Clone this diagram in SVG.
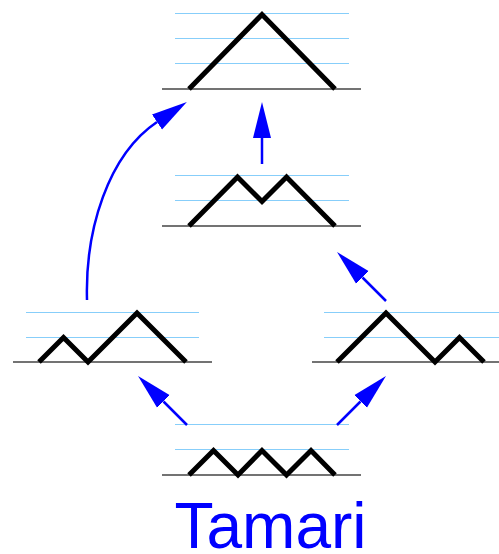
<svg xmlns="http://www.w3.org/2000/svg" width="499" height="554" viewBox="0 0 499 554">
<style>
.grid{stroke:#87cefa;stroke-width:1;fill:none}
.base{stroke:#444;stroke-width:1.5;fill:none}
.path{stroke:#000;stroke-width:5;fill:none;stroke-linejoin:miter;stroke-linecap:butt}
.arr{stroke:#00f;stroke-width:2.5;fill:none;marker-end:url(#ah)}
.label{font-family:"Liberation Sans",Arial,sans-serif;font-size:64px;fill:#00f}
</style>
<defs>
<marker id="ah" markerUnits="userSpaceOnUse" markerWidth="40" markerHeight="20" viewBox="0 -10 40 20" refX="0" refY="0" orient="auto">
<path d="M0,-9 L36,0 L0,9 z" fill="#00f"/>
</marker>
</defs>
<rect width="499" height="554" fill="#fff"/>
<g id="top">
<path class="grid" d="M175,13.5H349M175,38.5H349M175,63.5H349"/>
<path class="base" d="M162,89H361"/>
<path class="path" d="M189,89L262,14.5L335,89"/>
</g>
<g id="middle">
<path class="grid" d="M175,175.5H349M175,200.5H349"/>
<path class="base" d="M162,226H361"/>
<path class="path" d="M189,226L237.5,177L262,201.5L286.5,177L335,226"/>
</g>
<g id="left">
<path class="grid" d="M26,312.5H199M26,337.5H199"/>
<path class="base" d="M13,362H212"/>
<path class="path" d="M39,362L63.5,337.5L88,362L137,313L186,362"/>
</g>
<g id="right">
<path class="grid" d="M324,312.5H499M324,337.5H499"/>
<path class="base" d="M312,362H499"/>
<path class="path" d="M337,362L386,313L435,362L459.5,337.5L484,362"/>
</g>
<g id="bottom">
<path class="grid" d="M175,424.5H349M175,449.5H349"/>
<path class="base" d="M162,475H361"/>
<path class="path" d="M189,475L213.5,450.5L238,475L262,450.5L286.5,475L311,450.5L335,475"/>
</g>
<g id="connectors">
<path class="arr" d="M262,164V138"/>
<path class="arr" d="M87,300C85,230 108,155 157,122"/>
<path class="arr" d="M187,425L163.5,401.5"/>
<path class="arr" d="M337,425L360.5,401.5"/>
<path class="arr" d="M386,301L362.5,277.5"/>
</g>
<text class="label" x="174.5" y="548">Tamari</text>
</svg>
